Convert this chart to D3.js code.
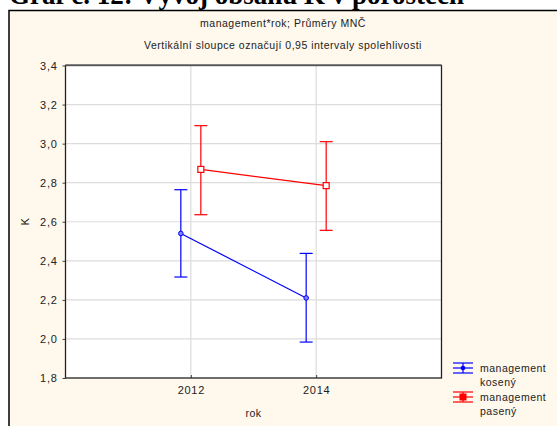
<!DOCTYPE html>
<html>
<head>
<meta charset="utf-8">
<script src="https://cdn.jsdelivr.net/npm/d3@7"></script>
<style>
  html, body { margin: 0; padding: 0; background: #fff; }
  svg { display: block; }
  text { font-family: Arial, "Liberation Sans", sans-serif; fill: #222; }
</style>
</head>
<body>
<script>
// Means and 0.95 confidence intervals of K by management and year
const years = [2012, 2014];
const seriesNames = ["management\nkosený", "management\npasený"];
const kosenyMean = [2.54, 2.21];
const kosenyLow = [2.317, 1.984];
const kosenyHigh = [2.764, 2.438];
const pasenyMean = [2.868, 2.785];
const pasenyLow = [2.636, 2.556];
const pasenyHigh = [3.092, 3.01];
const yTicks = [1.8, 2.0, 2.2, 2.4, 2.6, 2.8, 3.0, 3.2, 3.4];

const W = 557, H = 426;
const svg = d3.select("body").append("svg").attr("width", W).attr("height", H);

// Heading of the document section (runs off the top of the page)
svg.append("text")
  .attr("x", 9).attr("y", 4)
  .style("font-family", "'Liberation Serif', 'Times New Roman', serif")
  .style("font-weight", "bold").style("font-size", "27px").style("fill", "#000")
  .text("Graf č. 12: Vývoj obsahu K v porostech");

// Graph window
svg.append("rect").attr("x", 9).attr("y", 10.5).attr("width", W).attr("height", H)
  .attr("fill", "#fff8ec").attr("stroke", "#000").attr("stroke-width", 1.5);

const small = sel => sel.style("font-size", "10.5px").style("letter-spacing", "0.5px");
svg.append("text").attr("x", 283).attr("y", 27).attr("text-anchor", "middle")
  .call(small).text("management*rok; Průměry MNČ");
svg.append("text").attr("x", 283).attr("y", 49).attr("text-anchor", "middle")
  .call(small).text("Vertikální sloupce označují 0,95 intervaly spolehlivosti");

const L = 65.5, R = 441.5, T = 65.5, B = 378;
const x = d3.scaleLinear().domain([2010, 2016]).range([L, R]);
const y = d3.scaleLinear().domain([1.8, 3.4]).range([B, T]);
const fmt = d => d3.format(".1f")(d).replace(".", ",");

svg.append("rect").attr("x", L).attr("y", T).attr("width", R - L).attr("height", B - T)
  .attr("fill", "#fff");

// Grid
const g = svg.append("g");
g.selectAll(".hg").data(yTicks.slice(1, -1)).join("line")
  .attr("x1", L).attr("x2", R).attr("y1", d => y(d)).attr("y2", d => y(d))
  .attr("stroke", "#dcdcdc").attr("stroke-width", 1.2);
g.selectAll(".vg").data(years).join("line")
  .attr("x1", d => x(d)).attr("x2", d => x(d)).attr("y1", T).attr("y2", B)
  .attr("stroke", "#dcdcdc").attr("stroke-width", 1.2);

// Axes
const yAxis = svg.append("g").attr("transform", `translate(${L},0)`)
  .call(d3.axisLeft(y).tickValues(yTicks).tickFormat(fmt).tickSize(3).tickPadding(5));
const xAxis = svg.append("g").attr("transform", `translate(0,${B})`)
  .call(d3.axisBottom(x).tickValues(years).tickFormat(d3.format("d")).tickSize(-3).tickPadding(8));
[yAxis, xAxis].forEach(a => {
  a.select(".domain").remove();
  a.selectAll("line").attr("stroke", "#444");
  a.selectAll("text").style("font-size", "11px").style("letter-spacing", "0.7px")
    .style("font-family", "Arial, 'Liberation Sans', sans-serif").attr("fill", "#222");
});

// Plot frame
svg.append("rect").attr("x", L).attr("y", T).attr("width", R - L).attr("height", B - T)
  .attr("fill", "none").attr("stroke", "#222").attr("stroke-width", 1.3);
svg.append("line").attr("x1", L).attr("x2", R).attr("y1", T - 0.5).attr("y2", T - 0.5)
  .attr("stroke", "#666").attr("stroke-width", 1.5);

svg.append("text").attr("transform", `translate(29,${(T + B) / 2}) rotate(-90)`)
  .attr("text-anchor", "middle").style("font-size", "10.5px").text("K");
svg.append("text").attr("x", (x(2012) + x(2014)) / 2).attr("y", 417)
  .attr("text-anchor", "middle").call(small).text("rok");

// Series
const series = [
  { mean: kosenyMean, low: kosenyLow, high: kosenyHigh, color: "#0000ff", shift: -10, marker: "circle" },
  { mean: pasenyMean, low: pasenyLow, high: pasenyHigh, color: "#ff0000", shift: 10, marker: "square" }
];
const cap = 6.5;
series.forEach(s => {
  const pts = years.map((yr, i) => ({ px: x(yr) + s.shift, m: s.mean[i], lo: s.low[i], hi: s.high[i] }));
  const sg = svg.append("g");
  sg.append("path").datum(pts)
    .attr("d", d3.line().x(d => d.px).y(d => y(d.m)))
    .attr("fill", "none").attr("stroke", s.color).attr("stroke-width", 1.2);
  pts.forEach(p => {
    sg.append("line").attr("x1", p.px).attr("x2", p.px).attr("y1", y(p.lo)).attr("y2", y(p.hi))
      .attr("stroke", s.color).attr("stroke-width", 1.2);
    [p.lo, p.hi].forEach(v => sg.append("line")
      .attr("x1", p.px - cap).attr("x2", p.px + cap).attr("y1", y(v)).attr("y2", y(v))
      .attr("stroke", s.color).attr("stroke-width", 1.2));
    if (s.marker === "circle") {
      sg.append("circle").attr("cx", p.px).attr("cy", y(p.m)).attr("r", 2.3)
        .attr("fill", "#8080ff").attr("stroke", s.color).attr("stroke-width", 1);
    } else {
      sg.append("rect").attr("x", p.px - 3).attr("y", y(p.m) - 3).attr("width", 6).attr("height", 6)
        .attr("fill", "#fff").attr("stroke", s.color).attr("stroke-width", 1.2);
    }
  });
});

// Legend
const legendY = [368, 397];
series.forEach((s, i) => {
  const cy = legendY[i], cx = 463;
  const lg = svg.append("g");
  [-5, 0, 5].forEach(o => lg.append("line").attr("x1", cx - 10).attr("x2", cx + 10)
    .attr("y1", cy + o).attr("y2", cy + o).attr("stroke", s.color).attr("stroke-width", 1.2));
  lg.append("line").attr("x1", cx).attr("x2", cx).attr("y1", cy - 5).attr("y2", cy + 5)
    .attr("stroke", s.color).attr("stroke-width", 1.2);
  if (s.marker === "circle") {
    lg.append("circle").attr("cx", cx).attr("cy", cy).attr("r", 2.3).attr("fill", s.color);
  } else {
    lg.append("rect").attr("x", cx - 3).attr("y", cy - 3).attr("width", 6).attr("height", 6)
      .attr("fill", s.color).attr("stroke", s.color);
  }
  const lines = seriesNames[i].split("\n");
  lines.forEach((t, j) => lg.append("text").attr("x", 480).attr("y", cy + 4 + j * 14)
    .call(small).text(t));
});
</script>
</body>
</html>
